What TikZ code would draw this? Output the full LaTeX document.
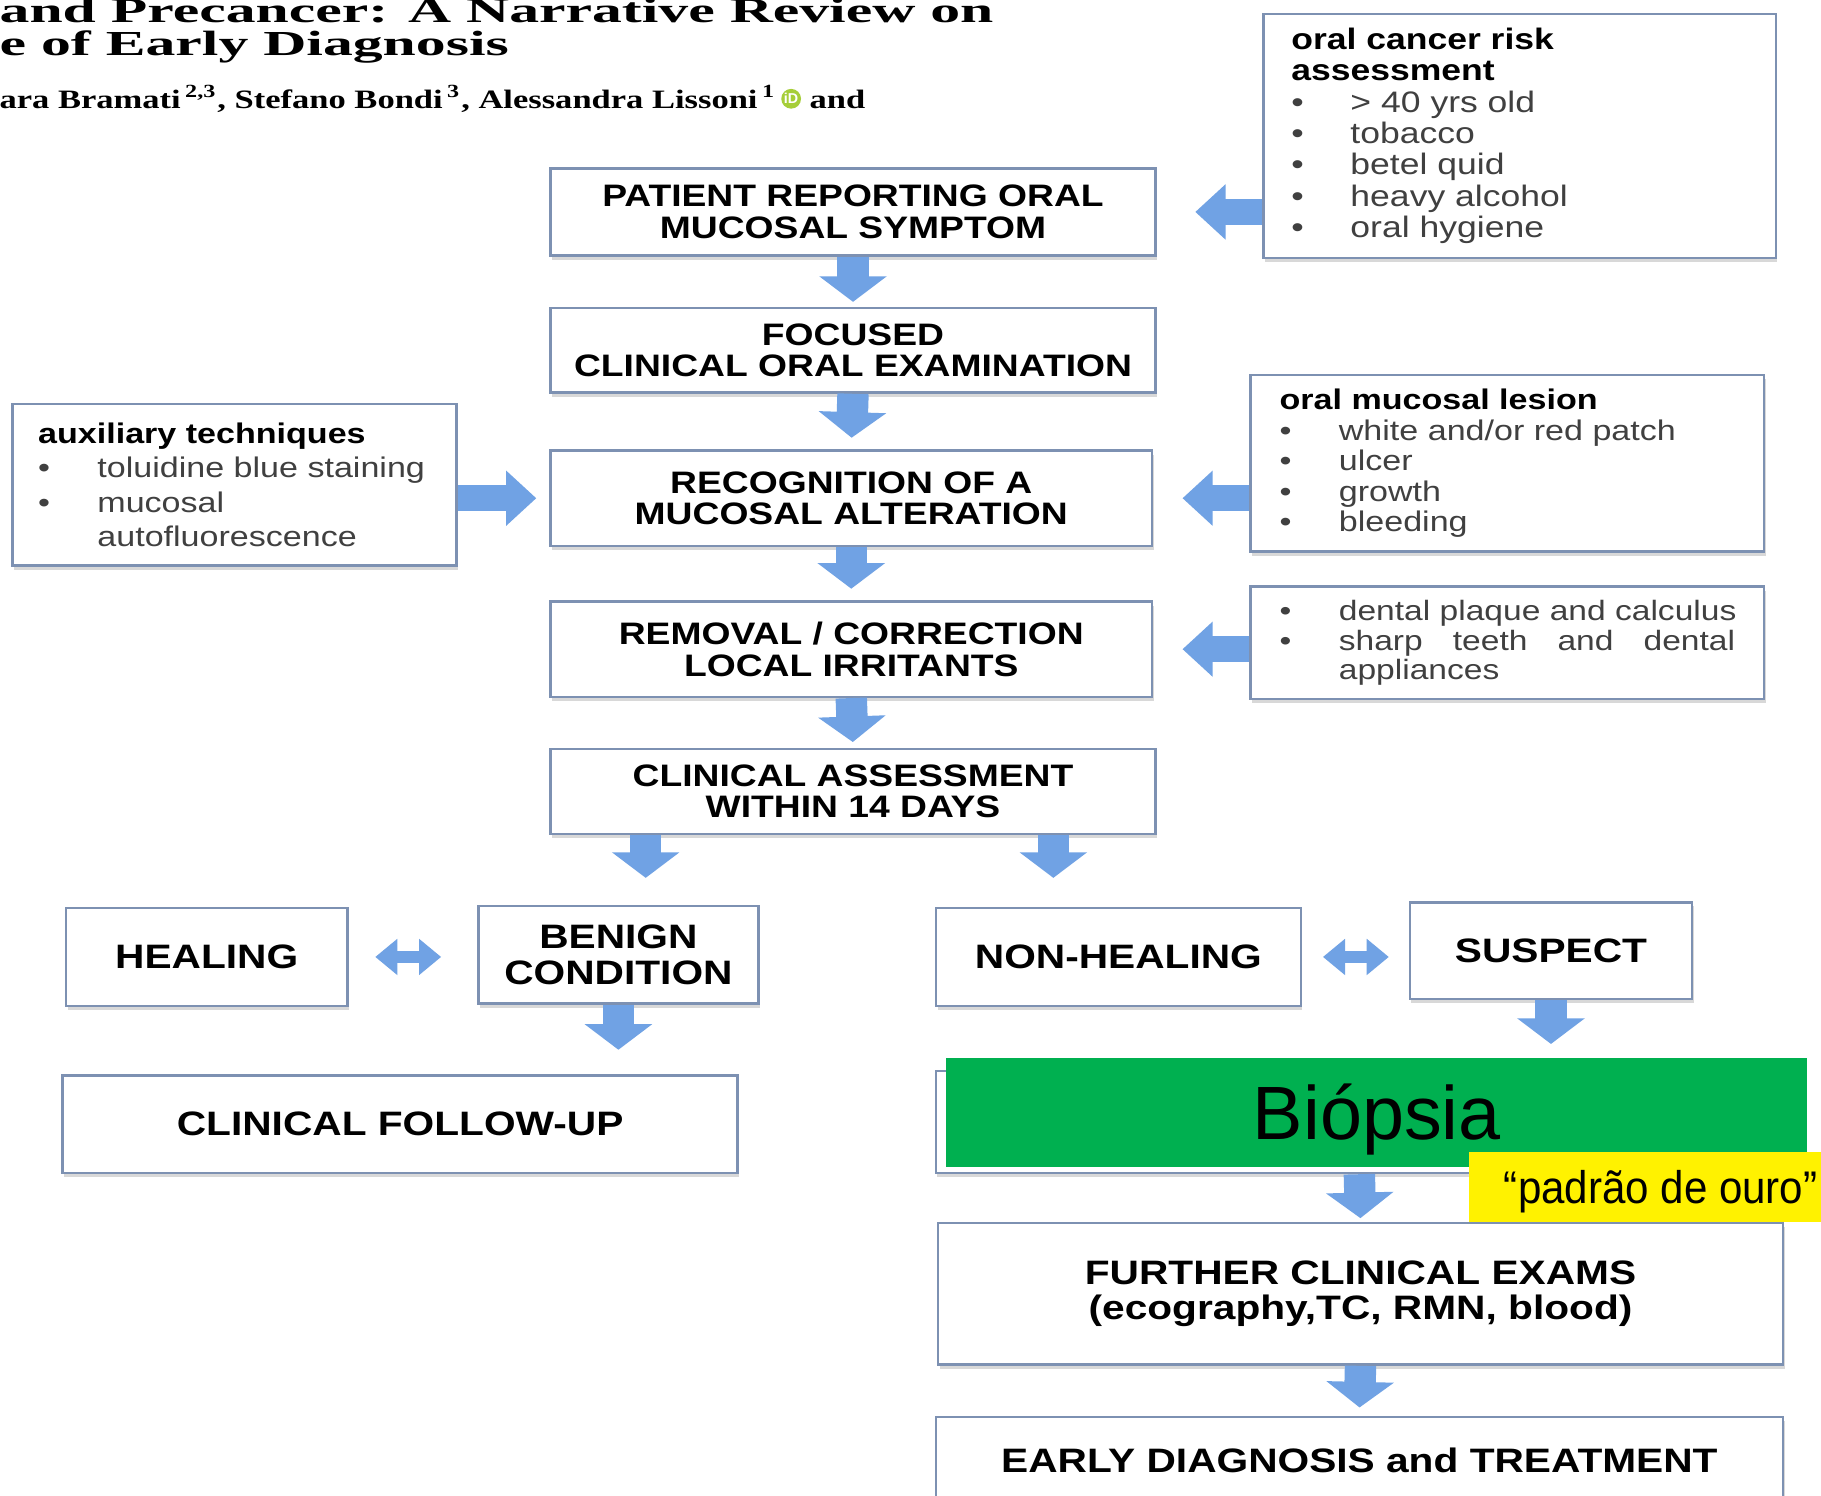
\documentclass[tikz,border=0pt]{standalone}
\usepackage{fontspec}
\setmainfont{Liberation Sans}
\newfontfamily\boxfont[FakeStretch=1.2]{Liberation Sans}
\newfontfamily\titlefont[FakeStretch=1.7]{Liberation Serif}
\newfontfamily\authorfont[FakeStretch=1.3]{Liberation Serif}
\newfontfamily\quotefont[FakeStretch=0.92]{Liberation Sans}
\usetikzlibrary{positioning,calc,arrows.meta,shadows}

\definecolor{boxline}{RGB}{125,145,178}
\definecolor{arrowblue}{RGB}{112,162,228}
\definecolor{itemgrey}{RGB}{64,64,64}
\definecolor{biopsygreen}{RGB}{0,176,80}
\definecolor{orcidgreen}{RGB}{166,206,57}

\newcommand{\bitem}[1]{\mbox{\makebox[14.5pt][l]{\textbullet}#1}}

\begin{document}
\begin{tikzpicture}[
  x=0.01cm, y=-0.01cm,
  box/.style={draw=boxline, line width=0.6pt, fill=white, rectangle, align=center,
    drop shadow={shadow xshift=0.4pt, shadow yshift=-1pt, opacity=0.3},
    font=\boxfont\bfseries\fontsize{7.6}{7.7}\selectfont},
  bigbox/.style={box, font=\boxfont\bfseries\fontsize{8.3}{8.7}\selectfont},
  sidebox/.style={draw=boxline, line width=0.6pt, fill=white, rectangle, align=left,
    drop shadow={shadow xshift=0.4pt, shadow yshift=-1pt, opacity=0.3}, text=itemgrey},
  downarrow/.style={draw=arrowblue, line width=0.27cm, -{Triangle[width=0.57cm,length=0.22cm]}},
  sidearrow/.style={draw=arrowblue, line width=0.22cm, -{Triangle[width=0.46cm,length=0.26cm]}},
  twoarrow/.style={draw=arrowblue, line width=0.11cm,
    {Triangle[width=0.3cm,length=0.19cm]}-{Triangle[width=0.3cm,length=0.19cm]}},
  titletext/.style={font=\titlefont\bfseries\fontsize{8.6}{8.6}\selectfont, inner sep=0pt},
  authortext/.style={font=\authorfont\bfseries\fontsize{6.5}{6.5}\selectfont, inner sep=0pt}
]
\useasboundingbox[fill=white] (0,0) rectangle (1568,1288);

\node[titletext, anchor=base west] (titleA) at (-1,19) {and Precancer: A Narrative Review on};
\node[titletext, anchor=base west] (titleB) at (-1,48) {e of Early Diagnosis};
\node[authortext, anchor=base west] (authors) at (-1,93)
  {ara Bramati\,\textsuperscript{2,3}, Stefano Bondi\,\textsuperscript{3}, Alessandra Lissoni\,\textsuperscript{1}};
\node[circle, fill=orcidgreen, minimum size=0.17cm, inner sep=0pt, text=white,
  font=\bfseries\fontsize{3.5}{3.5}\selectfont, right=0.03cm of authors] (orcid) {iD};
\node[authortext, anchor=base west] (authand) at ($(orcid.east |- authors.base)+(6,0)$) {and};

\node[box, minimum width=5.21cm, minimum height=0.75cm] (patient) at (734.5,182.5) {PATIENT REPORTING ORAL\\MUCOSAL SYMPTOM};
\node[box, minimum width=5.21cm, minimum height=0.73cm] (focused) at (734.5,301.5) {FOCUSED\\CLINICAL ORAL EXAMINATION};
\node[box, minimum width=5.18cm, minimum height=0.82cm] (recog) at (733,429) {RECOGNITION OF A\\MUCOSAL ALTERATION};
\node[box, minimum width=5.18cm, minimum height=0.82cm] (removal) at (733,559) {REMOVAL / CORRECTION\\LOCAL IRRITANTS};
\node[box, minimum width=5.21cm, minimum height=0.73cm] (assess) at (734.5,681.5) {CLINICAL ASSESSMENT\\WITHIN 14 DAYS};

\node[bigbox, minimum width=2.42cm, minimum height=0.84cm] (healing) at (178,824) {HEALING};
\node[bigbox, minimum width=2.41cm, minimum height=0.84cm] (benign) at (532.5,822) {BENIGN\\CONDITION};
\node[bigbox, minimum width=3.14cm, minimum height=0.84cm] (nonheal) at (963,824) {NON-HEALING};
\node[bigbox, minimum width=2.43cm, minimum height=0.83cm] (suspect) at (1335.5,818.5) {SUSPECT};
\node[bigbox, minimum width=5.81cm, minimum height=0.84cm] (followup) at (344.5,968) {CLINICAL FOLLOW-UP};
\node[bigbox, minimum width=7.29cm, minimum height=0.88cm] (biopsybox) at (1170.5,966) {};
\node[bigbox, minimum width=7.27cm, minimum height=1.22cm] (further) at (1171.5,1114) {FURTHER CLINICAL EXAMS\\(ecography,TC, RMN, blood)};
\node[bigbox, minimum width=7.29cm, minimum height=0.75cm] (early) at (1170.5,1257.5) {EARLY DIAGNOSIS and TREATMENT};

\node[sidebox, font=\boxfont\fontsize{7.25}{7.7}\selectfont, text width=3.93cm, inner xsep=0.24cm,
  minimum height=2.1cm] (risk) at (1308.5,117)
  {{\bfseries\color{black}oral cancer risk\\assessment}\\
   \bitem{> 40 yrs old}\\\bitem{tobacco}\\\bitem{betel quid}\\\bitem{heavy alcohol}\\\bitem{oral hygiene}};
\node[sidebox, font=\boxfont\fontsize{6.95}{8.4}\selectfont, text width=3.38cm, inner xsep=0.22cm,
  minimum height=1.39cm] (aux) at (202,417.5)
  {{\bfseries\color{black}auxiliary techniques}\\
   \bitem{toluidine blue staining}\\\bitem{mucosal}\\\hspace*{14.5pt}autofluorescence};
\node[sidebox, font=\boxfont\fontsize{6.95}{7.5}\selectfont, text width=3.92cm, inner xsep=0.25cm,
  minimum height=1.5cm] (lesion) at (1298,399)
  {{\bfseries\color{black}oral mucosal lesion}\\
   \bitem{white and/or red patch}\\\bitem{ulcer}\\\bitem{growth}\\\bitem{bleeding}};
\node[sidebox, font=\boxfont\fontsize{6.85}{7.2}\selectfont, text width=3.92cm, inner xsep=0.25cm,
  minimum height=0.97cm] (dental) at (1298,553.5)
  {\bitem{dental plaque and calculus}\\
   \bitem{\hbox to 3.41cm{sharp\hfill teeth\hfill and\hfill dental}}\\\hspace*{14.5pt}appliances};

\draw[downarrow, shorten >=0.04cm] (patient.south) -- (focused.north);
\draw[downarrow, shorten >=0.1cm] (focused.south) -- (recog.north);
\draw[downarrow, shorten >=0.1cm] (recog.south) -- (removal.north);
\draw[downarrow, shorten >=0.05cm] (removal.south) -- (assess.north);
\coordinate (leftout) at ($(assess.south)+(-178.5,0)$);
\coordinate (rightout) at ($(assess.south)+(172.5,0)$);
\draw[downarrow, shorten >=0.23cm] (leftout) -- (leftout |- benign.north);
\draw[downarrow, shorten >=0.25cm] (rightout) -- (rightout |- nonheal.north);
\draw[downarrow, shorten >=0.21cm] (benign.south) -- (benign.south |- followup.north);
\draw[downarrow, shorten >=0.22cm] (suspect.south) -- (suspect.south |- biopsybox.north);
\draw[downarrow, shorten >=0.03cm] (biopsybox.south) -- (further.north);
\draw[downarrow, shorten >=0.07cm] (further.south) -- (early.north);

\draw[sidearrow, shorten >=0.33cm] (risk.west |- patient.east) -- (patient.east);
\draw[sidearrow, shorten >=0.11cm] (aux.east |- recog.west) -- (recog.west);
\draw[sidearrow, shorten >=0.25cm] (lesion.west |- recog.east) -- (recog.east);
\draw[sidearrow, shorten >=0.25cm] (dental.west |- removal.east) -- (removal.east);
\draw[twoarrow, shorten <=0.23cm, shorten >=0.31cm] (healing.east) -- (healing.east -| benign.west);
\draw[twoarrow, shorten <=0.18cm, shorten >=0.17cm] (nonheal.east) -- (nonheal.east -| suspect.west);

\node[fill=biopsygreen, minimum width=7.41cm, minimum height=0.94cm, inner sep=0pt,
  font=\fontsize{18.5}{18.5}\selectfont, text height=13.2pt, text depth=0pt] (biopsia) at (1185.5,958) {Biópsia};
\node[fill=yellow, minimum width=3.3cm, minimum height=0.6cm, inner sep=0pt,
  font=\quotefont\fontsize{11.2}{11.2}\selectfont, text height=8pt, text depth=0pt] (ouro) at (1430,1022) {“padrão de ouro”};

\end{tikzpicture}
\end{document}
